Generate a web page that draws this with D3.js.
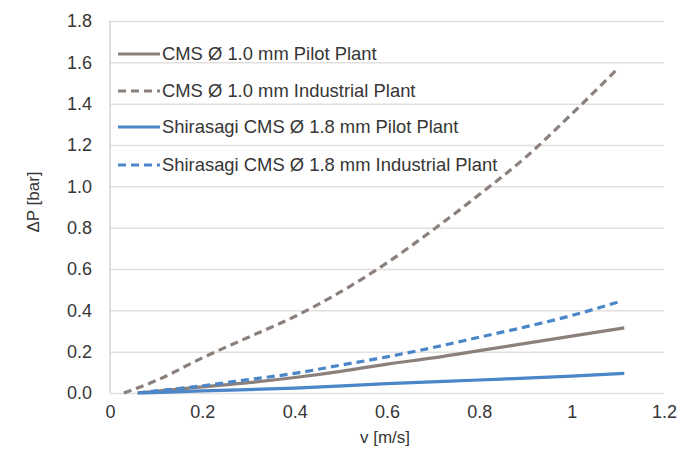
<!DOCTYPE html>
<html>
<head>
<meta charset="utf-8">
<script src="https://cdn.jsdelivr.net/npm/d3@7/dist/d3.min.js"></script>
<style>
  body { margin: 0; background: #fff; }
  text { font-family: "Liberation Sans", Arial, sans-serif; fill: #363636; }
</style>
</head>
<body>
<svg width="694" height="466"></svg>
<script>
// series: v [m/s] -> dP [bar]
var cmsPilotV = [0.06, 0.1, 0.2, 0.3, 0.4, 0.5, 0.6, 0.7, 0.8, 0.9, 1.0, 1.114];
var cmsPilotP = [0, 0.008, 0.03, 0.05, 0.075, 0.105, 0.14, 0.17, 0.205, 0.24, 0.275, 0.315];

var cmsIndV = [0.03, 0.1, 0.2, 0.3, 0.4, 0.5, 0.6, 0.7, 0.8, 0.9, 1.0, 1.1];
var cmsIndP = [0, 0.06, 0.17, 0.27, 0.37, 0.49, 0.63, 0.79, 0.96, 1.14, 1.35, 1.57];

var shiPilotV = [0.07, 0.2, 0.4, 0.6, 0.8, 1.0, 1.114];
var shiPilotP = [0, 0.01, 0.024, 0.045, 0.063, 0.082, 0.095];

var shiIndV = [0.06, 0.1, 0.2, 0.3, 0.4, 0.5, 0.6, 0.7, 0.8, 0.9, 1.0, 1.1];
var shiIndP = [0, 0.01, 0.035, 0.065, 0.095, 0.135, 0.175, 0.22, 0.27, 0.32, 0.375, 0.44];

var xTicks = [0, 0.2, 0.4, 0.6, 0.8, 1, 1.2];
var yTicks = [0, 0.2, 0.4, 0.6, 0.8, 1.0, 1.2, 1.4, 1.6, 1.8];

var seriesNames = ["CMS Ø 1.0 mm Pilot Plant", "CMS Ø 1.0 mm Industrial Plant",
    "Shirasagi CMS Ø 1.8 mm Pilot Plant", "Shirasagi CMS Ø 1.8 mm Industrial Plant"];
var seriesColors = ["#8b807b", "#8b807b", "#4a86c8", "#4a86c8"];
var seriesDash = [null, "8,5", null, "8,5"];

var svg = d3.select("svg"),
        plotLeft = 110, plotRight = 664, plotTop = 21, plotBottom = 393;

var x = d3.scaleLinear().domain([0, 1.2]).range([plotLeft, plotRight]);
var y = d3.scaleLinear().domain([0, 1.8]).range([plotBottom, plotTop]);

// gridlines
svg.append("g")
        .attr("transform", "translate(" + plotLeft + ",0)")
        .call(d3.axisLeft(y).tickValues(yTicks).tickSize(-(plotRight - plotLeft)).tickFormat(""))
        .call(function (g) {
            g.select(".domain").remove();
            g.selectAll("line").attr("stroke", "#e2e0de").attr("stroke-width", 1.5);
        });

// left axis line
svg.append("line")
        .attr("x1", plotLeft).attr("x2", plotLeft)
        .attr("y1", plotTop).attr("y2", plotBottom)
        .attr("stroke", "#d6d3d0").attr("stroke-width", 1.5);

// tick labels
svg.append("g")
        .attr("transform", "translate(" + plotLeft + ",0)")
        .call(d3.axisLeft(y).tickValues(yTicks).tickSize(0).tickPadding(18).tickFormat(d3.format(".1f")))
        .call(function (g) {
            g.select(".domain").remove();
            g.selectAll("text").attr("font-size", 18).attr("fill", "#363636")
                    .attr("font-family", "Liberation Sans, Arial, sans-serif");
        });

svg.append("g")
        .attr("transform", "translate(0," + plotBottom + ")")
        .call(d3.axisBottom(x).tickValues(xTicks).tickSize(0).tickPadding(12)
                .tickFormat(function (d) { return d3.format("~g")(d); }))
        .call(function (g) {
            g.select(".domain").remove();
            g.selectAll("text").attr("font-size", 18).attr("fill", "#363636")
                    .attr("font-family", "Liberation Sans, Arial, sans-serif");
        });

// axis titles
svg.append("text")
        .attr("x", 385).attr("y", 443)
        .attr("text-anchor", "middle")
        .attr("font-size", 17)
        .text("v [m/s]");

svg.append("text")
        .attr("transform", "translate(39,202) rotate(-90)")
        .attr("text-anchor", "middle")
        .attr("font-size", 17)
        .text("ΔP [bar]");

// lines
var line = d3.line()
        .x(function (d) { return x(d[0]); })
        .y(function (d) { return y(d[1]); })
        .curve(d3.curveMonotoneX);

var allV = [cmsPilotV, cmsIndV, shiPilotV, shiIndV];
var allP = [cmsPilotP, cmsIndP, shiPilotP, shiIndP];
var drawOrder = [1, 0, 3, 2];

drawOrder.forEach(function (i) {
    var pts = d3.zip(allV[i], allP[i]);
    svg.append("path")
            .datum(pts)
            .attr("d", line)
            .attr("fill", "none")
            .attr("stroke", seriesColors[i])
            .attr("stroke-width", 3.2)
            .attr("stroke-dasharray", seriesDash[i]);
});

// legend
var legendY = [54, 91, 127, 165];
var legend = svg.append("g");
seriesNames.forEach(function (name, i) {
    legend.append("line")
            .attr("x1", 118).attr("x2", 160)
            .attr("y1", legendY[i]).attr("y2", legendY[i])
            .attr("stroke", seriesColors[i])
            .attr("stroke-width", 3.2)
            .attr("stroke-dasharray", seriesDash[i]);
    legend.append("text")
            .attr("x", 162).attr("y", legendY[i])
            .attr("dy", "0.35em")
            .attr("font-size", 18.4)
            .text(name);
});
</script>
</body>
</html>
